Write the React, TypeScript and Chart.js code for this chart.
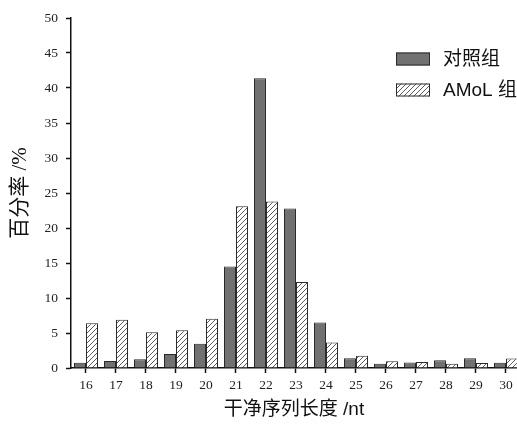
import React, { useEffect, useRef } from 'react';
import { Chart, registerables } from 'chart.js';

Chart.register(...registerables);

// ---- data ----
const lengths = [16, 17, 18, 19, 20, 21, 22, 23, 24, 25, 26, 27, 28, 29, 30];
const controlValues = [0.75, 1.0, 1.25, 2.0, 3.45, 14.5, 41.4, 22.8, 6.5, 1.4, 0.6, 0.8, 1.1, 1.4, 0.75];
const amolValues = [6.4, 6.9, 5.1, 5.4, 7.05, 23.1, 23.8, 12.3, 3.65, 1.75, 0.95, 0.85, 0.6, 0.7, 1.35];
const seriesLabels = ['对照组', 'AMoL 组'];
const yAxisTitle = '百分率 /%';
const xAxisTitle = '干净序列长度 /nt';
const yMin = 0;
const yMax = 50;
const yStep = 5;

function makeHatch(): CanvasPattern | string {
  const size = 5;
  const c = document.createElement('canvas');
  c.width = size;
  c.height = size;
  const g = c.getContext('2d');
  if (!g) return '#ffffff';
  g.fillStyle = '#ffffff';
  g.fillRect(0, 0, size, size);
  g.strokeStyle = '#4a4a4a';
  g.lineWidth = 0.9;
  g.beginPath();
  g.moveTo(0, size);
  g.lineTo(size, 0);
  g.moveTo(-size, size);
  g.lineTo(0, 0);
  g.moveTo(size, 2 * size);
  g.lineTo(2 * size, size);
  g.stroke();
  const ctx2 = document.createElement('canvas').getContext('2d');
  return (ctx2 && ctx2.createPattern(c, 'repeat')) || '#ffffff';
}

const legendPlugin = {
  id: 'boxLegend',
  afterDraw(chart: any) {
    const ctx = chart.ctx as CanvasRenderingContext2D;
    const area = chart.chartArea;
    const boxX = area.right - 121;
    const boxW = 34;
    const boxH = 13;
    chart.data.datasets.forEach((ds: any, i: number) => {
      const cy = area.top + 41 + i * 31;
      ctx.save();
      ctx.fillStyle = ds.backgroundColor;
      ctx.fillRect(boxX, cy - boxH / 2, boxW, boxH);
      ctx.strokeStyle = '#2a2a2a';
      ctx.lineWidth = 1;
      ctx.strokeRect(boxX + 0.5, cy - boxH / 2 + 0.5, boxW - 1, boxH - 1);
      ctx.fillStyle = '#111111';
      ctx.font = '19px "Liberation Sans", "Noto Sans CJK SC", sans-serif';
      ctx.textBaseline = 'middle';
      ctx.textAlign = 'left';
      ctx.fillText(ds.label, boxX + 47, cy + 1);
      ctx.restore();
    });
  },
};

export default function App() {
  const ref = useRef<HTMLCanvasElement | null>(null);

  useEffect(() => {
    document.body.style.margin = '0';
    const canvas = ref.current;
    if (!canvas) return;
    const hatch = makeHatch();
    const chart = new Chart(canvas, {
      type: 'bar',
      data: {
        datasets: [
          {
            label: seriesLabels[0],
            data: lengths.map((x, i) => ({ x, y: controlValues[i] })),
            backgroundColor: '#717171',
            borderColor: '#2a2a2a',
            borderWidth: 1,
            categoryPercentage: 0.8,
            barPercentage: 1.0,
          },
          {
            label: seriesLabels[1],
            data: lengths.map((x, i) => ({ x, y: amolValues[i] })),
            backgroundColor: hatch as any,
            borderColor: '#2a2a2a',
            borderWidth: 1,
            categoryPercentage: 0.8,
            barPercentage: 1.0,
          },
        ],
      },
      options: {
        responsive: false,
        animation: false,
        devicePixelRatio: 1,
        layout: { padding: { top: 18, right: 0, left: 0, bottom: 0 } },
        plugins: {
          legend: { display: false },
          tooltip: { enabled: false },
        },
        scales: {
          x: {
            type: 'linear',
            offset: false,
            min: lengths[0] - 0.5,
            max: lengths[0] - 0.5 + 14.867,
            afterBuildTicks: (scale: any) => {
              scale.ticks = lengths.map((v) => ({ value: v }));
            },
            afterFit: (scale: any) => {
              scale.height = 57;
            },
            grid: {
              offset: false,
              drawOnChartArea: false,
              drawTicks: true,
              tickLength: 5,
              tickColor: '#111111',
              tickWidth: 1.5,
            },
            border: { display: true, color: '#111111', width: 1.5 },
            ticks: {
              autoSkip: false,
              maxRotation: 0,
              padding: 4,
              color: '#222222',
              font: { family: '"Liberation Serif", serif', size: 13.5 },
              callback: (v: any) => String(v),
            },
            title: {
              display: true,
              text: xAxisTitle,
              color: '#111111',
              font: { family: '"Liberation Sans", "Noto Sans CJK SC", sans-serif', size: 19 },
              padding: { top: 0, bottom: 4 },
            },
          },
          y: {
            type: 'linear',
            min: yMin,
            max: yMax,
            afterFit: (scale: any) => {
              scale.width = 71;
            },
            grid: {
              drawOnChartArea: false,
              drawTicks: true,
              tickLength: 5,
              tickColor: '#111111',
              tickWidth: 1.5,
            },
            border: { display: true, color: '#111111', width: 1.5 },
            ticks: {
              stepSize: yStep,
              padding: 8,
              color: '#222222',
              font: { family: '"Liberation Serif", serif', size: 13.5 },
            },
            title: {
              display: true,
              text: yAxisTitle,
              color: '#111111',
              font: { family: '"Liberation Serif", "Noto Sans CJK SC", serif', size: 21 },
              padding: { top: 8, bottom: 0 },
            },
          },
        },
      } as any,
      plugins: [legendPlugin],
    });
    return () => chart.destroy();
  }, []);

  return (
    <div style={{ position: 'relative', width: 517, height: 425, background: '#ffffff' }}>
      <canvas ref={ref} width={517} height={425} style={{ display: 'block' }} />
    </div>
  );
}
